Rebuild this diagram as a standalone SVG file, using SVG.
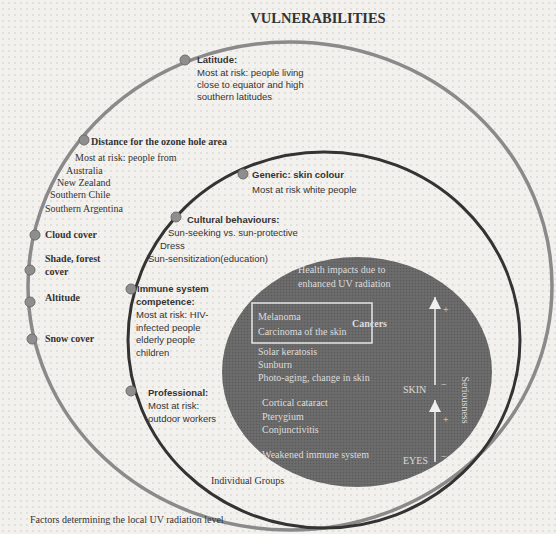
<svg xmlns="http://www.w3.org/2000/svg" width="556" height="534" viewBox="0 0 556 534">
<defs>
<pattern id="dots" width="6" height="6" patternUnits="userSpaceOnUse"><circle cx="3" cy="3" r="0.9" fill="#c9c7c2"/></pattern>
<pattern id="darkdots" width="3" height="3" patternUnits="userSpaceOnUse"><rect width="3" height="3" fill="#6c6c6c"/><circle cx="1.5" cy="1.5" r="0.8" fill="#5a5a5a"/></pattern>
<marker id="ah" markerWidth="12" markerHeight="12" refX="10" refY="5" orient="auto" markerUnits="userSpaceOnUse" viewBox="0 0 10 10"><path d="M0,0 L10,5 L0,10 Z" fill="#f0f0f0"/></marker>
</defs>
<style>
.sans{font-family:"Liberation Sans",Arial,sans-serif;font-size:9.5px;fill:#333}
.serif{font-family:"Liberation Serif","Times New Roman",serif;font-size:10px;fill:#333}
.b{font-weight:bold}
.w{font-family:"Liberation Serif","Times New Roman",serif;font-size:10px;fill:#dcdcdc}
.node{fill:#8e8e8e;stroke:#6d6d6d;stroke-width:1}
</style>
<rect width="556" height="534" fill="#f3f1ed"/>
<rect width="556" height="534" fill="url(#dots)" opacity="0.6"/>

<text x="318" y="23" text-anchor="middle" font-family="Liberation Serif, Times New Roman, serif" font-size="14.5" font-weight="bold" fill="#333">VULNERABILITIES</text>

<g id="connectors">
<ellipse cx="290" cy="286" rx="262" ry="244" fill="none" stroke="#8a8a8a" stroke-width="3.5"/>
<ellipse cx="324" cy="340" rx="196" ry="188" fill="none" stroke="#333" stroke-width="3"/>
</g>

<g id="health">
<ellipse cx="357" cy="372" rx="135" ry="115" fill="url(#darkdots)"/>
<text class="w" x="298" y="273">Health impacts due to</text>
<text class="w" x="298" y="287">enhanced UV radiation</text>
<rect x="252" y="303" width="120" height="40" fill="none" stroke="#e6e6e6" stroke-width="1.5"/>
<text class="w" x="258" y="320">Melanoma</text>
<text class="w" x="258" y="335">Carcinoma of the skin</text>
<text class="w b" x="352" y="327" font-size="11">Cancers</text>
<text class="w" x="258" y="355">Solar keratosis</text>
<text class="w" x="258" y="368">Sunburn</text>
<text class="w" x="258" y="381">Photo-aging, change in skin</text>
<text class="w" x="403" y="393" font-size="8">SKIN</text>
<text class="w" x="262" y="406">Cortical cataract</text>
<text class="w" x="262" y="420">Pterygium</text>
<text class="w" x="262" y="433">Conjunctivitis</text>
<text class="w" x="262" y="458">Weakened immune system</text>
<text class="w" x="403" y="464" font-size="8">EYES</text>
<line x1="435" y1="385" x2="435" y2="297" stroke="#f0f0f0" stroke-width="1.5" marker-end="url(#ah)"/>
<line x1="435" y1="462" x2="435" y2="400" stroke="#f0f0f0" stroke-width="1.5" marker-end="url(#ah)"/>
<text class="w" x="443" y="313" font-size="8">+</text>
<text class="w" x="443" y="423" font-size="8">+</text>
<text class="w" x="441" y="388" font-size="8">−</text>
<text class="w" x="441" y="460" font-size="8">−</text>
<text class="w" transform="translate(462,400) rotate(90)" text-anchor="middle" font-size="9">Seriousness</text>
</g>

<g id="latitude">
<circle class="node" cx="185" cy="60" r="5"/>
<text class="sans b" x="197" y="63">Latitude:</text>
<text class="sans" x="197" y="76">Most at risk: people living</text>
<text class="sans" x="197" y="88">close to equator and high</text>
<text class="sans" x="197" y="100">southern latitudes</text>
</g>

<g id="distance">
<circle class="node" cx="84" cy="140" r="5"/>
<text class="serif b" x="91" y="145">Distance for the ozone hole area</text>
<text class="serif" x="75" y="161">Most at risk: people from</text>
<text class="serif" x="66" y="174">Australia</text>
<text class="serif" x="57" y="186">New Zealand</text>
<text class="serif" x="50" y="198">Southern Chile</text>
<text class="serif" x="45" y="212">Southern Argentina</text>
</g>

<g id="cloud">
<circle class="node" cx="35" cy="235" r="5"/>
<text class="serif b" x="45" y="238">Cloud cover</text>
</g>
<g id="shade">
<circle class="node" cx="30" cy="270" r="5"/>
<text class="serif b" x="45" y="262">Shade, forest</text>
<text class="serif b" x="45" y="275">cover</text>
</g>
<g id="altitude">
<circle class="node" cx="30" cy="302" r="5"/>
<text class="serif b" x="45" y="301">Altitude</text>
</g>
<g id="snow">
<circle class="node" cx="32" cy="339" r="5"/>
<text class="serif b" x="45" y="342">Snow cover</text>
</g>

<g id="generic">
<circle class="node" cx="243" cy="174" r="5"/>
<text class="sans b" x="252" y="178">Generic: skin colour</text>
<text class="sans" x="252" y="193">Most at risk white people</text>
</g>
<g id="cultural">
<circle class="node" cx="176" cy="217" r="5"/>
<text class="sans b" x="187" y="223">Cultural behaviours:</text>
<text class="sans" x="168" y="236">Sun-seeking vs. sun-protective</text>
<text class="sans" x="160" y="249">Dress</text>
<text class="sans" x="148" y="262">Sun-sensitization(education)</text>
</g>
<g id="immune">
<circle class="node" cx="131" cy="289" r="5"/>
<text class="sans b" x="137" y="292">Immune system</text>
<text class="sans b" x="136" y="305">competence:</text>
<text class="sans" x="136" y="318">Most at risk: HIV-</text>
<text class="sans" x="136" y="331">infected people</text>
<text class="sans" x="136" y="343">elderly people</text>
<text class="sans" x="136" y="356">children</text>
</g>
<g id="professional">
<circle class="node" cx="131" cy="391" r="5"/>
<text class="sans b" x="148" y="396">Professional:</text>
<text class="sans" x="148" y="409">Most at risk:</text>
<text class="sans" x="148" y="422">outdoor workers</text>
</g>

<text class="serif" x="211" y="484" font-size="8.5">Individual Groups</text>
<text class="serif" x="30" y="523" font-size="9">Factors determining the local UV radiation level</text>
</svg>
